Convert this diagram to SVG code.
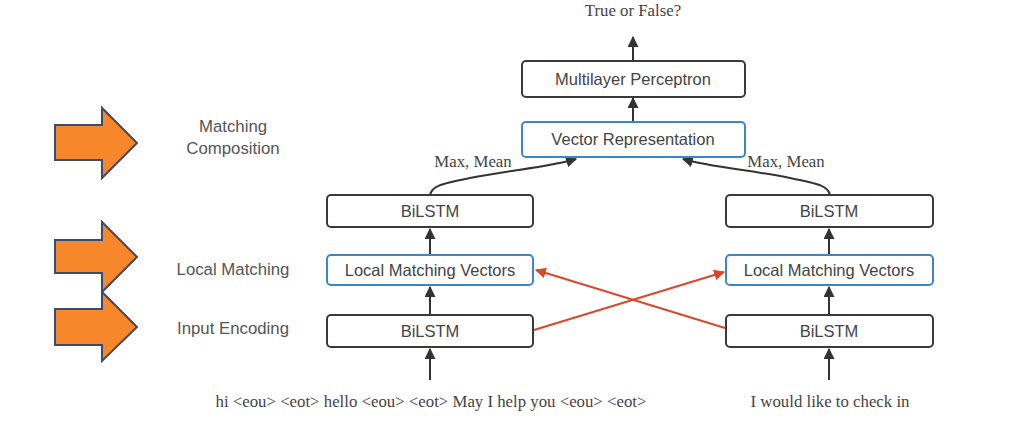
<svg xmlns="http://www.w3.org/2000/svg" width="1026" height="423" viewBox="0 0 1026 423">
<defs>
<style>
.box{fill:#fff;stroke:#3a3a3a;stroke-width:2}
.blue{fill:#fff;stroke:#3d86c6;stroke-width:2}
.lbl{font-family:"Liberation Sans",Arial,sans-serif;font-size:16.5px;fill:#444;text-anchor:middle}
.ser{font-family:"Liberation Serif","Times New Roman",serif;font-size:16.8px;fill:#444;text-anchor:middle}
.side{font-family:"Liberation Sans",Arial,sans-serif;font-size:16.8px;fill:#555;text-anchor:middle}
.ln{fill:none;stroke:#333;stroke-width:2}
.red{fill:none;stroke:#d9482b;stroke-width:2}
.orange{fill:#f7872a;stroke:#3e4a68;stroke-width:2;stroke-linejoin:miter}
</style>
<marker id="ah" viewBox="0 0 10 10" refX="9" refY="5" markerWidth="5.5" markerHeight="5.5" orient="auto"><path d="M0,0 L10,5 L0,10 z" fill="#333"/></marker>
<marker id="ahr" viewBox="0 0 10 10" refX="9" refY="5" markerWidth="5.5" markerHeight="5.5" orient="auto"><path d="M0,0 L10,5 L0,10 z" fill="#d9482b"/></marker>
</defs>
<rect width="1026" height="423" fill="#fff"/>

<g id="arrow-composition"><path class="orange" d="M55,125 L102,125 L102,108 L137,143 L102,178 L102,160 L55,160 Z"/></g>
<g id="arrow-local"><path class="orange" d="M55,240 L102,240 L102,222 L137,257 L102,292 L102,273 L55,273 Z"/></g>
<g id="arrow-input"><path class="orange" d="M55,309 L102,309 L102,292 L137,327 L102,361 L102,345 L55,345 Z"/></g>

<g id="side-labels">
<text class="side" x="233" y="132">Matching</text>
<text class="side" x="233" y="154">Composition</text>
<text class="side" x="233" y="275">Local Matching</text>
<text class="side" x="233" y="334">Input Encoding</text>
</g>

<g id="connectors">
<line class="ln" x1="633" y1="61" x2="633" y2="37" marker-end="url(#ah)"/>
<line class="ln" x1="633" y1="122" x2="633" y2="98" marker-end="url(#ah)"/>
<path class="ln" d="M430,195 C432,186 440,184 470,178 C510,170 550,167 576,159" marker-end="url(#ah)"/>
<path class="ln" d="M830,195 C828,186 820,184 790,178 C750,170 710,167 683,159" marker-end="url(#ah)"/>
<line class="ln" x1="430" y1="255" x2="430" y2="229" marker-end="url(#ah)"/>
<line class="ln" x1="430" y1="315" x2="430" y2="287" marker-end="url(#ah)"/>
<line class="ln" x1="430" y1="380" x2="430" y2="349" marker-end="url(#ah)"/>
<line class="ln" x1="829" y1="255" x2="829" y2="229" marker-end="url(#ah)"/>
<line class="ln" x1="829" y1="315" x2="829" y2="287" marker-end="url(#ah)"/>
<line class="ln" x1="829" y1="380" x2="829" y2="349" marker-end="url(#ah)"/>
<line class="red" x1="534" y1="330" x2="724" y2="272" marker-end="url(#ahr)"/>
<line class="red" x1="725" y1="328" x2="536" y2="270" marker-end="url(#ahr)"/>
<text class="ser" x="473" y="167">Max, Mean</text>
<text class="ser" x="786" y="167">Max, Mean</text>
</g>

<g id="title"><text class="ser" x="633" y="16">True or False?</text></g>
<g id="mlp"><rect class="box" x="522" y="61" width="223" height="36" rx="4"/><text class="lbl" x="633" y="85">Multilayer Perceptron</text></g>
<g id="vector-rep"><rect class="blue" x="522" y="122" width="223" height="35" rx="4"/><text class="lbl" x="633" y="145">Vector Representation</text></g>

<g id="left-bilstm-top"><rect class="box" x="327" y="195" width="206" height="32" rx="4"/><text class="lbl" x="430" y="217">BiLSTM</text></g>
<g id="left-lmv"><rect class="blue" x="327" y="255" width="206" height="30" rx="4"/><text class="lbl" x="430" y="276">Local Matching Vectors</text></g>
<g id="left-bilstm-bottom"><rect class="box" x="327" y="315" width="206" height="32" rx="4"/><text class="lbl" x="430" y="337">BiLSTM</text></g>

<g id="right-bilstm-top"><rect class="box" x="726" y="195" width="207" height="32" rx="4"/><text class="lbl" x="829" y="217">BiLSTM</text></g>
<g id="right-lmv"><rect class="blue" x="726" y="255" width="207" height="30" rx="4"/><text class="lbl" x="829" y="276">Local Matching Vectors</text></g>
<g id="right-bilstm-bottom"><rect class="box" x="726" y="315" width="207" height="32" rx="4"/><text class="lbl" x="829" y="337">BiLSTM</text></g>

<g id="inputs">
<text class="ser" x="431" y="407">hi &lt;eou&gt; &lt;eot&gt; hello &lt;eou&gt; &lt;eot&gt; May I help you &lt;eou&gt; &lt;eot&gt;</text>
<text class="ser" x="830" y="407">I would like to check in</text>
</g>
</svg>
